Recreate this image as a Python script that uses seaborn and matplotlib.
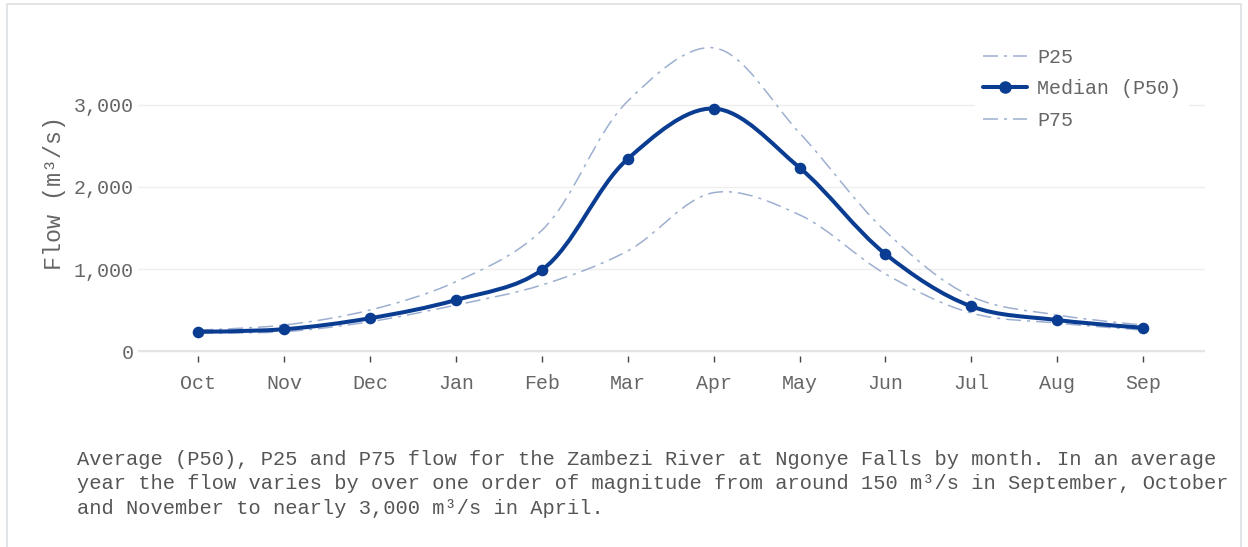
import numpy as np
import pandas as pd
import matplotlib.pyplot as plt
import seaborn as sns
from matplotlib.path import Path
from matplotlib.patches import PathPatch, Rectangle
from matplotlib.lines import Line2D


# Monthly flow percentiles, Zambezi River at Ngonye Falls (m3/s)
months = ["Oct", "Nov", "Dec", "Jan", "Feb", "Mar", "Apr", "May", "Jun", "Jul", "Aug", "Sep"]
p25 = [220, 236, 358, 561, 805, 1220, 1930, 1660, 940, 463, 341, 256]
p50 = [236, 266, 400, 622, 988, 2341, 2955, 2235, 1183, 545, 378, 284]
p75 = [256, 317, 500, 845, 1470, 3045, 3695, 2658, 1460, 665, 439, 317]

yticks = [0, 1000, 2000, 3000]
caption = (
    "Average (P50), P25 and P75 flow for the Zambezi River at Ngonye Falls by month. In an average\n"
    "year the flow varies by over one order of magnitude from around 150 m³/s in September, October\n"
    "and November to nearly 3,000 m³/s in April."
)

DARK = "#0a3d91"
LIGHT = "#9dafd0"
TEXT = "#666666"


def spline_path(xs, ys, sx, sy, smoothing=1.0):
    """Catmull-Rom style smoothing (like plotly's 'spline' shape), done in pixel space."""
    pts = np.column_stack([np.asarray(xs, float) * sx, np.asarray(ys, float) * sy])
    tangents = []
    for i in range(1, len(pts) - 1):
        cur = pts[i]
        d1 = pts[i - 1] - cur
        d2 = pts[i + 1] - cur
        d1a = np.hypot(*d1) ** 0.5
        d2a = np.hypot(*d2) ** 0.5
        num = (d2a * d2a * d1 - d1a * d1a * d2) * smoothing
        den1 = 3 * d2a * (d1a + d2a)
        den2 = 3 * d1a * (d1a + d2a)
        tangents.append((cur + num / den1, cur - num / den2))

    verts = [pts[0], tangents[0][0], pts[1]]
    codes = [Path.MOVETO, Path.CURVE3, Path.CURVE3]
    for i in range(2, len(pts) - 1):
        verts += [tangents[i - 2][1], tangents[i - 1][0], pts[i]]
        codes += [Path.CURVE4] * 3
    verts += [tangents[-1][1], pts[-1]]
    codes += [Path.CURVE3, Path.CURVE3]
    return Path(np.array(verts) / [sx, sy], codes)


sns.set_style("white")
plt.rcParams["font.family"] = ["Liberation Mono", "DejaVu Sans Mono"]

W, H = 1248, 547
fig = plt.figure(figsize=(W / 100, H / 100), dpi=100)
ax = fig.add_axes([138 / W, (H - 356) / H, (1205 - 138) / W, (356 - 31) / H])

xlim = (-0.7, 11.72)
ylim = (-60, 3900)
ax.set_xlim(*xlim)
ax.set_ylim(*ylim)

# pixel scale so smoothing behaves like it does on screen
sx = (1205 - 138) / (xlim[1] - xlim[0])
sy = (356 - 31) / (ylim[1] - ylim[0])

x = np.arange(len(months))
lw_thin = 1.1
dash = (0, (10.8 / lw_thin, 4.3 / lw_thin, 2.2 / lw_thin, 4.3 / lw_thin))

for series in (p25, p75):
    ax.add_patch(PathPatch(spline_path(x, series, sx, sy), fill=False,
                           edgecolor=LIGHT, lw=lw_thin, linestyle=dash, zorder=3))
ax.add_patch(PathPatch(spline_path(x, p50, sx, sy), fill=False,
                       edgecolor=DARK, lw=2.9, capstyle="round", joinstyle="round", zorder=4))

df = pd.DataFrame({"month": months, "idx": x, "P50": p50})
sns.scatterplot(data=df, x="idx", y="P50", color=DARK, s=70, linewidth=0, ax=ax, zorder=5)

# axes styling
ax.set_xlim(*xlim)
ax.set_ylim(*ylim)
for sp in ax.spines.values():
    sp.set_visible(False)
ax.set_yticks(yticks)
ax.set_yticklabels([f"{v:,}" for v in yticks])
ax.set_xticks(x)
ax.set_xticklabels(months)
ax.yaxis.grid(True, color="#eeeeee", lw=1)
ax.xaxis.grid(False)
ax.axhline(0, color="#e4e4e4", lw=1.6, zorder=1)
ax.tick_params(axis="y", left=False, length=0, pad=3, labelsize=14.4, labelcolor=TEXT)
ax.tick_params(axis="x", bottom=True, length=4.3, width=1, color="#444444", direction="out",
               pad=9, labelsize=14.4, labelcolor=TEXT)
ax.set_xlabel("")
ax.set_ylabel("Flow (m³/s)", fontsize=16.8, color=TEXT, labelpad=6)

handles = [
    Line2D([], [], color=LIGHT, lw=lw_thin, linestyle=dash),
    Line2D([], [], color=DARK, lw=2.9, marker="o", markersize=8),
    Line2D([], [], color=LIGHT, lw=lw_thin, linestyle=dash),
]
leg = ax.legend(handles, ["P25", "Median (P50)", "P75"], loc="upper left",
                bbox_to_anchor=(975 / W, 1 - 40 / H), bbox_transform=fig.transFigure,
                borderaxespad=0, frameon=True, facecolor="white", edgecolor="none",
                framealpha=1, fontsize=14.4, handlelength=2.2, handletextpad=0.5,
                labelspacing=0.62, borderpad=0.4)
for t in leg.get_texts():
    t.set_color(TEXT)

fig.text(77 / W, 1 - 450 / H, caption, va="top", ha="left", fontsize=14.7,
         linespacing=1.36, color="#555555")

fig.add_artist(Rectangle((7 / W, -0.02), (1241 - 7) / W, 1.02 - 4 / H,
                         transform=fig.transFigure, fill=False,
                         edgecolor="#dde0e4", lw=1.2))

fig.savefig("out.png", dpi=100)
